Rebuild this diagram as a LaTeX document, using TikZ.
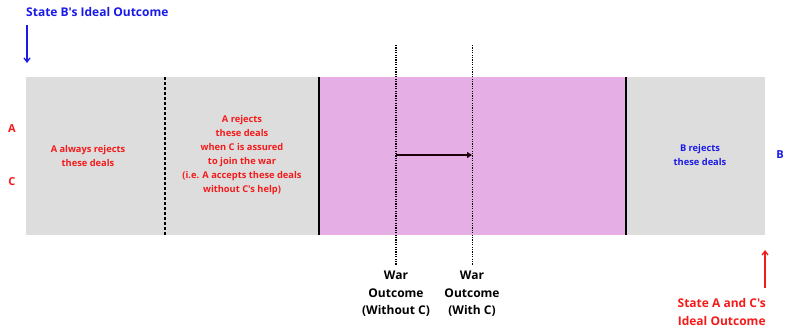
\documentclass[tikz,border=0pt]{standalone}
\usepackage{fontspec}
\setmainfont{Open Sans}
\newfontfamily\ob{Open Sans Bold}
\usetikzlibrary{arrows.meta}
\definecolor{boxgray}{HTML}{DDDDDD}
\definecolor{warpink}{HTML}{E5AEE5}
\definecolor{myred}{HTML}{F51A1A}
\definecolor{myblue}{HTML}{1A1AE6}
\begin{document}
\begin{tikzpicture}[x=1pt,y=-1pt,
  small/.style={font=\ob\fontsize{9.3}{14}\selectfont,align=center,inner sep=0pt},
  big/.style={font=\ob\fontsize{12}{17.5}\selectfont,align=center,inner sep=0pt},
  letter/.style={font=\ob\fontsize{11}{12}\selectfont,inner sep=0pt}]
\useasboundingbox (0,0) rectangle (786,327);
% regions
\fill[boxgray] (26,77) rectangle (765,235);
\fill[warpink] (319,77) rectangle (626,235);
\draw[line width=1.6pt] (319,77) -- (319,235);
\draw[line width=1.6pt] (626,77) -- (626,235);
\draw[line width=1.6pt,dash pattern=on 3pt off 2pt] (165,77) -- (165,235);
% war outcome lines
\coordinate (w1t) at (396,45); \coordinate (w1b) at (396,265);
\coordinate (w2t) at (472,45); \coordinate (w2b) at (472,265);
\draw[line width=1.2pt,dash pattern=on 1.2pt off 1.2pt] (w1t) -- (w1b);
\draw[line width=0.8pt,dash pattern=on 1.2pt off 1.2pt] (w2t) -- (w2b);
\coordinate (a1) at (396,155); \coordinate (a2) at (472,155);
\draw[line width=1.3pt,color=black!85!purple,-{Triangle[length=5pt,width=6pt]}] (a1) -- (a2);
% labels
\node[letter,text=myred] (lA) at (12,129) {A};
\node[letter,text=myred] (lC) at (12,182) {C};
\node[letter,text=myblue] (lB) at (780,155) {B};
\node[small,text=myred] (t1) at (88,156) {A always rejects\\these deals};
\node[small,text=myred] (t2) at (242,155) {A rejects\\these deals\\when C is assured\\to join the war\\(i.e. A accepts these deals\\without C's help)};
\node[small,text=myblue] (t3) at (700,155) {B rejects\\these deals};
\node[big] (wo1) at (396,294) {War\\Outcome\\(Without C)};
\node[big] (wo2) at (472,294) {War\\Outcome\\(With C)};
% ideal outcomes
\node[big,text=myblue,anchor=west] (sb) at (26,12) {State B's Ideal Outcome};
\coordinate (sbt) at (27,25); \coordinate (sbb) at (27,63);
\draw[myblue,line width=1.3pt,-{Straight Barb[length=4pt,width=6pt]}] (sbt) -- (sbb);
\node[big,text=myred,anchor=east] (sa) at (766,312) {State A and C's\\Ideal Outcome};
\coordinate (sat) at (765,250); \coordinate (sab) at (765,288);
\draw[myred,line width=1.3pt,-{Straight Barb[length=4pt,width=6pt]}] (sab) -- (sat);
\end{tikzpicture}
\end{document}
